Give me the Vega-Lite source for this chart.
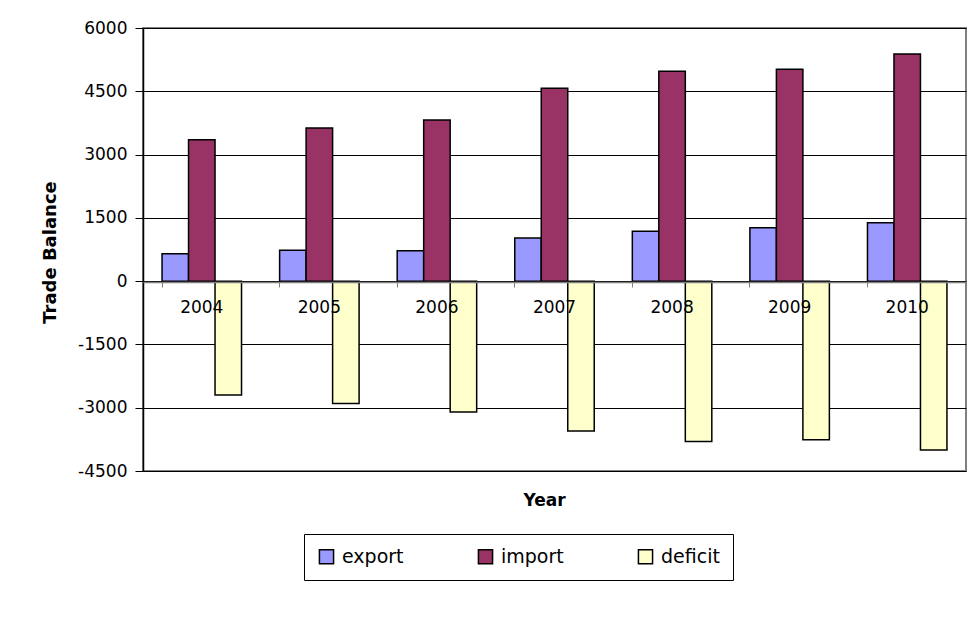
{
  "$schema": "https://vega.github.io/schema/vega-lite/v6.json",
  "width": 823,
  "height": 443,
  "autosize": {"type": "none"},
  "padding": {"left": 143, "top": 28, "right": 7, "bottom": 155},
  "background": "white",
  "config": {
    "view": {"stroke": "#808080", "strokeWidth": 2},
    "font": "DejaVu Sans"
  },
  "data": {
    "values": [
      {"year": "2004", "series": "export", "value": 650},
      {"year": "2004", "series": "import", "value": 3350},
      {"year": "2004", "series": "deficit", "value": -2700},
      {"year": "2005", "series": "export", "value": 735},
      {"year": "2005", "series": "import", "value": 3630},
      {"year": "2005", "series": "deficit", "value": -2900},
      {"year": "2006", "series": "export", "value": 720},
      {"year": "2006", "series": "import", "value": 3820},
      {"year": "2006", "series": "deficit", "value": -3100},
      {"year": "2007", "series": "export", "value": 1020},
      {"year": "2007", "series": "import", "value": 4570},
      {"year": "2007", "series": "deficit", "value": -3550},
      {"year": "2008", "series": "export", "value": 1180},
      {"year": "2008", "series": "import", "value": 4975},
      {"year": "2008", "series": "deficit", "value": -3800},
      {"year": "2009", "series": "export", "value": 1265},
      {"year": "2009", "series": "import", "value": 5025},
      {"year": "2009", "series": "deficit", "value": -3760},
      {"year": "2010", "series": "export", "value": 1385},
      {"year": "2010", "series": "import", "value": 5385},
      {"year": "2010", "series": "deficit", "value": -4000}
    ]
  },
  "mark": {"type": "bar", "stroke": "black", "strokeWidth": 1.5, "opacity": 1},
  "encoding": {
    "x": {
      "field": "year",
      "type": "nominal",
      "scale": {"paddingInner": 0.324, "paddingOuter": 0.162},
      "axis": {
        "title": "Year",
        "offset": -189,
        "zindex": 1,
        "labelAngle": 0,
        "bandPosition": 0,
        "labelOffset": 0,
        "domainColor": "#808080",
        "domainWidth": 1.5,
        "tickColor": "#808080",
        "tickSize": 5,
        "tickWidth": 1,
        "labelFont": "DejaVu Sans",
        "labelFontSize": 17,
        "labelPadding": 12,
        "labelColor": "black",
        "titleFont": "DejaVu Sans",
        "titleFontSize": 17,
        "titleFontWeight": "bold",
        "titleColor": "black",
        "titleX": 401,
        "titleY": 223,
        "titleBaseline": "alphabetic",
        "titleAlign": "center"
      }
    },
    "xOffset": {"field": "series", "type": "nominal", "sort": ["export", "import", "deficit"], "scale": {"paddingInner": 0, "paddingOuter": 0}},
    "y": {
      "field": "value",
      "type": "quantitative",
      "scale": {"domain": [-4500, 6000], "nice": false, "zero": false},
      "axis": {
        "values": [-4500, -3000, -1500, 0, 1500, 3000, 4500, 6000],
        "labelExpr": "'' + datum.value",
        "title": "Trade Balance",
        "grid": true,
        "gridColor": "black",
        "gridWidth": 1,
        "domainColor": "black",
        "domainWidth": 1.5,
        "tickColor": "black",
        "tickSize": 8,
        "tickWidth": 1,
        "labelFont": "DejaVu Sans",
        "labelFontSize": 17,
        "labelPadding": 8,
        "labelColor": "black",
        "titleFont": "DejaVu Sans",
        "titleFontSize": 18,
        "titleFontWeight": "bold",
        "titleColor": "black",
        "titleX": -88,
        "titleY": 224,
        "titleBaseline": "alphabetic"
      }
    },
    "color": {
      "field": "series",
      "type": "nominal",
      "sort": ["export", "import", "deficit"],
      "scale": {"domain": ["export", "import", "deficit"], "range": ["#9999FF", "#993366", "#FFFFCC"]},
      "legend": {
        "orient": "none",
        "legendX": 161,
        "legendY": 506,
        "direction": "horizontal",
        "title": null,
        "strokeColor": "black",
        "fillColor": "white",
        "padding": 13,
        "symbolType": "square",
        "symbolSize": 200,
        "symbolStrokeColor": "black",
        "symbolStrokeWidth": 1.5,
        "symbolOpacity": 1,
        "labelFont": "DejaVu Sans",
        "labelFontSize": 19,
        "labelColor": "black",
        "labelOffset": 6,
        "columnPadding": 71
      }
    }
  }
}
